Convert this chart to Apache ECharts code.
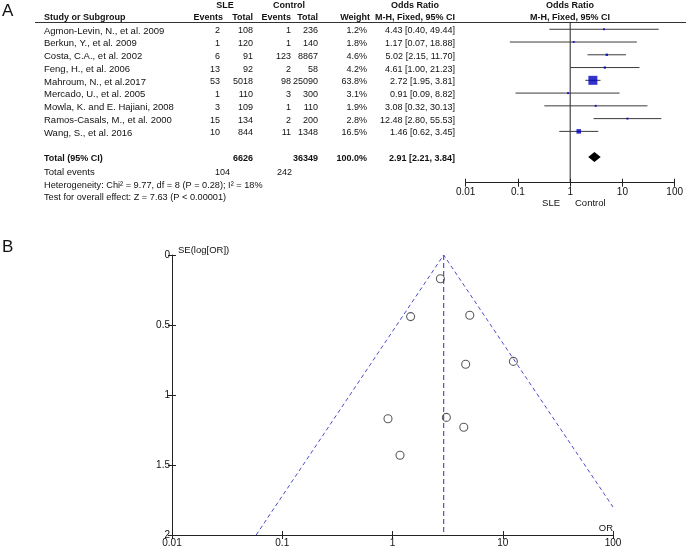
<!DOCTYPE html>
<html>
<head>
<meta charset="utf-8">
<script src="https://cdn.jsdelivr.net/npm/echarts@6/dist/echarts.min.js"></script>
<style>
html,body{margin:0;padding:0;background:#fff;}
#chart{width:686px;height:548px;}
</style>
</head>
<body>
<div id="chart"></div>
<script>
// ---------- DATA ----------
const studies = ['Agmon-Levin, N., et al. 2009','Berkun, Y., et al. 2009','Costa, C.A., et al. 2002','Feng, H., et al. 2006','Mahroum, N., et al.2017','Mercado, U., et al. 2005','Mowla, K. and E. Hajiani, 2008','Ramos-Casals, M., et al. 2000','Wang, S., et al. 2016'];
const sleEvents = [2, 1, 6, 13, 53, 1, 3, 15, 10];
const sleTotal = [108, 120, 91, 92, 5018, 110, 109, 134, 844];
const ctrlEvents = [1, 1, 123, 2, 98, 3, 1, 2, 11];
const ctrlTotal = [236, 140, 8867, 58, 25090, 300, 110, 200, 1348];
const weights = [1.2, 1.8, 4.6, 4.2, 63.8, 3.1, 1.9, 2.8, 16.5];
const orEst = [4.43, 1.17, 5.02, 4.61, 2.72, 0.91, 3.08, 12.48, 1.46];
const ciLow = [0.40, 0.07, 2.15, 1.00, 1.95, 0.09, 0.32, 2.80, 0.62];
const ciHigh = [49.44, 18.88, 11.70, 21.23, 3.81, 8.82, 30.13, 55.53, 3.45];
const pooledOR = [2.21, 2.91, 3.84];          // low, estimate, high
const totalsRow = {sleTotal: '6626', ctrlTotal: '36349', weight: '100.0%', or: '2.91 [2.21, 3.84]'};
const totalEvents = ['104', '242'];
const seLogOR = [1.23, 1.43, 0.43, 0.78, 0.17, 1.17, 1.16, 0.76, 0.44];
const funnelLines = [[0.058, 2], [2.91, 0], [100, 1.8]];
const funnelCentre = [[2.91, 0], [2.91, 2]];
const forestTickLabels = ['0.01', '0.1', '1', '10', '100'];
const funnelXTickLabels = ['0.01', '0.1', '1', '10', '100'];
const seTickLabels = ['0', '0.5', '1', '1.5', '2'];
const heterogeneityText = 'Heterogeneity: Chi\u00B2 = 9.77, df = 8 (P = 0.28); I\u00B2 = 18%';
const overallText = 'Test for overall effect: Z = 7.63 (P < 0.00001)';

// ---------- LAYOUT ----------
const FONT = '"Liberation Sans", Arial, sans-serif';
const rowY0 = 29.4, rowH = 12.75;
const rowY = i => rowY0 + i * rowH + 1.5;
const txt = (t, x, y, align, bold, size) => ({
  type: 'text', x: x, y: y, silent: true,
  style: {text: t, font: (bold ? 'bold ' : '') + (size || 9.5) + 'px ' + FONT, fill: '#111', align: align || 'left', verticalAlign: 'middle'}
});
const num = (t, x, y, bold) => txt(t, x, y, 'right', bold, 9);

const graphics = [];
graphics.push(txt('A', 2, 11, 'left', false, 17));
graphics.push(txt('B', 2, 247.5, 'left', false, 17));
// headers
graphics.push(txt('SLE', 225, 5.7, 'center', true, 9));
graphics.push(txt('Control', 289, 5.7, 'center', true, 9));
graphics.push(txt('Odds Ratio', 415, 5.7, 'center', true, 9));
graphics.push(txt('Odds Ratio', 570, 5.7, 'center', true, 9));
graphics.push(txt('Study or Subgroup', 44, 17.3, 'left', true, 9));
graphics.push(txt('Events', 223, 17.3, 'right', true, 9));
graphics.push(txt('Total', 253, 17.3, 'right', true, 9));
graphics.push(txt('Events', 291, 17.3, 'right', true, 9));
graphics.push(txt('Total', 318, 17.3, 'right', true, 9));
graphics.push(txt('Weight', 370, 17.3, 'right', true, 9));
graphics.push(txt('M-H, Fixed, 95% CI', 415, 17.3, 'center', true, 9));
graphics.push(txt('M-H, Fixed, 95% CI', 570, 17.3, 'center', true, 9));
graphics.push({type: 'line', silent: true, shape: {x1: 35, y1: 22.5, x2: 686, y2: 22.5}, style: {stroke: '#333', lineWidth: 1}});
// study rows
studies.forEach((s, i) => {
  const y = rowY(i);
  graphics.push(txt(s, 44, y, 'left'));
  graphics.push(num(String(sleEvents[i]), 220, y));
  graphics.push(num(String(sleTotal[i]), 253, y));
  graphics.push(num(String(ctrlEvents[i]), 291, y));
  graphics.push(num(String(ctrlTotal[i]), 318, y));
  graphics.push(num(weights[i].toFixed(1) + '%', 367, y));
  graphics.push(num(orEst[i].toFixed(2) + ' [' + ciLow[i].toFixed(2) + ', ' + ciHigh[i].toFixed(2) + ']', 455, y));
});
// totals
const yT = rowY(10);
graphics.push(txt('Total (95% CI)', 44, yT, 'left', true, 9));
graphics.push(num(totalsRow.sleTotal, 253, yT, true));
graphics.push(num(totalsRow.ctrlTotal, 318, yT, true));
graphics.push(num(totalsRow.weight, 367, yT, true));
graphics.push(num(totalsRow.or, 455, yT, true));
graphics.push(txt('Total events', 44, 172.5, 'left'));
graphics.push(num(totalEvents[0], 230, 172.5));
graphics.push(num(totalEvents[1], 292, 172.5));
graphics.push(txt(heterogeneityText, 44, 185, 'left', false, 9.2));
graphics.push(txt(overallText, 44, 197.5, 'left', false, 9.2));
graphics.push(txt('SLE', 560, 203, 'right'));
graphics.push(txt('Control', 575, 203, 'left'));
// funnel labels
graphics.push(txt('SE(log[OR])', 178, 250, 'left'));
graphics.push(txt('OR', 613, 528, 'right'));

// ---------- AXES ----------
const axisLineStyle = {color: '#222', width: 1};
function logAxis(grid, labels, inside, margin) {
  return {
    type: 'log', logBase: 10, min: 0.01, max: 100, gridIndex: grid, position: 'bottom', offset: 0,
    axisLine: {show: !inside, onZero: false, lineStyle: axisLineStyle},
    axisTick: {show: true, inside: !!inside, length: 4, lineStyle: axisLineStyle},
    axisLabel: {show: !inside, fontSize: 10, color: '#111', fontFamily: FONT, margin: margin,
      formatter: (v, idx) => labels[idx] !== undefined ? labels[idx] : ''},
    splitLine: {show: false}, minorTick: {show: false}
  };
}
function seAxis(inside) {
  return {
    type: 'value', gridIndex: 1, inverse: true, min: 0, max: 2, interval: 0.5, position: 'left', offset: 0,
    axisLine: {show: !inside, onZero: false, lineStyle: axisLineStyle},
    axisTick: {show: true, inside: !!inside, length: 4, lineStyle: axisLineStyle},
    axisLabel: {show: !inside, fontSize: 10, color: '#111', fontFamily: FONT, margin: 2,
      formatter: (v, idx) => seTickLabels[idx] !== undefined ? seTickLabels[idx] : ''},
    splitLine: {show: false}
  };
}

const option = {
  backgroundColor: '#fff',
  animation: false,
  textStyle: {fontFamily: FONT},
  grid: [
    {left: 465.7, top: 22.5, width: 211.6, height: 160.2},
    {left: 172, top: 255, width: 441, height: 281}
  ],
  xAxis: [
    logAxis(0, forestTickLabels, false, 5),
    logAxis(0, forestTickLabels, true, 5),
    logAxis(1, funnelXTickLabels, false, 3),
    logAxis(1, funnelXTickLabels, true, 3)
  ],
  yAxis: [
    {type: 'value', gridIndex: 0, inverse: true, min: -0.53, max: 12.02, show: false},
    seAxis(false),
    seAxis(true)
  ],
  graphic: graphics,
  series: [
    // line of no effect
    {type: 'line', xAxisIndex: 0, yAxisIndex: 0, data: [[1, -0.53], [1, 12.02]], symbol: 'none',
      lineStyle: {color: '#222', width: 1}, silent: true, z: 1},
    // CIs
    {type: 'custom', xAxisIndex: 0, yAxisIndex: 0, z: 2,
      data: studies.map((s, i) => [ciLow[i], ciHigh[i], i]),
      renderItem: (params, api) => {
        const a = api.coord([api.value(0), api.value(2)]);
        const b = api.coord([api.value(1), api.value(2)]);
        return {type: 'line', shape: {x1: a[0], y1: a[1], x2: b[0], y2: b[1]}, style: {stroke: '#3a3a3a', lineWidth: 1}};
      }},
    // study squares
    {type: 'scatter', xAxisIndex: 0, yAxisIndex: 0, symbol: 'rect', z: 3,
      data: studies.map((s, i) => ({value: [orEst[i], i], symbolSize: Math.max(2, 9 * Math.sqrt(weights[i] / 63.8))})),
      itemStyle: {color: '#0000c4'}},
    // pooled diamond
    {type: 'custom', xAxisIndex: 0, yAxisIndex: 0, z: 3,
      data: [[pooledOR[0], pooledOR[1], pooledOR[2], 10]],
      renderItem: (params, api) => {
        const l = api.coord([api.value(0), api.value(3)]);
        const m = api.coord([api.value(1), api.value(3)]);
        const r = api.coord([api.value(2), api.value(3)]);
        return {type: 'polygon', shape: {points: [[l[0], l[1]], [m[0], m[1] - 5], [r[0], r[1]], [m[0], m[1] + 5]]}, style: {fill: '#000'}};
      }},
    // funnel
    {type: 'line', xAxisIndex: 2, yAxisIndex: 1, data: funnelLines, symbol: 'none',
      lineStyle: {color: '#4d4dc9', width: 1, type: [4, 3]}, silent: true},
    {type: 'line', xAxisIndex: 2, yAxisIndex: 1, data: funnelCentre, symbol: 'none',
      lineStyle: {color: '#5050d0', width: 1.2, type: [5, 3]}, silent: true},
    {type: 'scatter', xAxisIndex: 2, yAxisIndex: 1, symbol: 'circle', symbolSize: 8,
      data: studies.map((s, i) => [orEst[i], seLogOR[i]]),
      itemStyle: {color: 'rgba(255,255,255,0)', borderColor: '#333', borderWidth: 1.1}, z: 4}
  ]
};
const chart = echarts.init(document.getElementById('chart'), null, {renderer: 'canvas'});
chart.setOption(option);
</script>
</body>
</html>
